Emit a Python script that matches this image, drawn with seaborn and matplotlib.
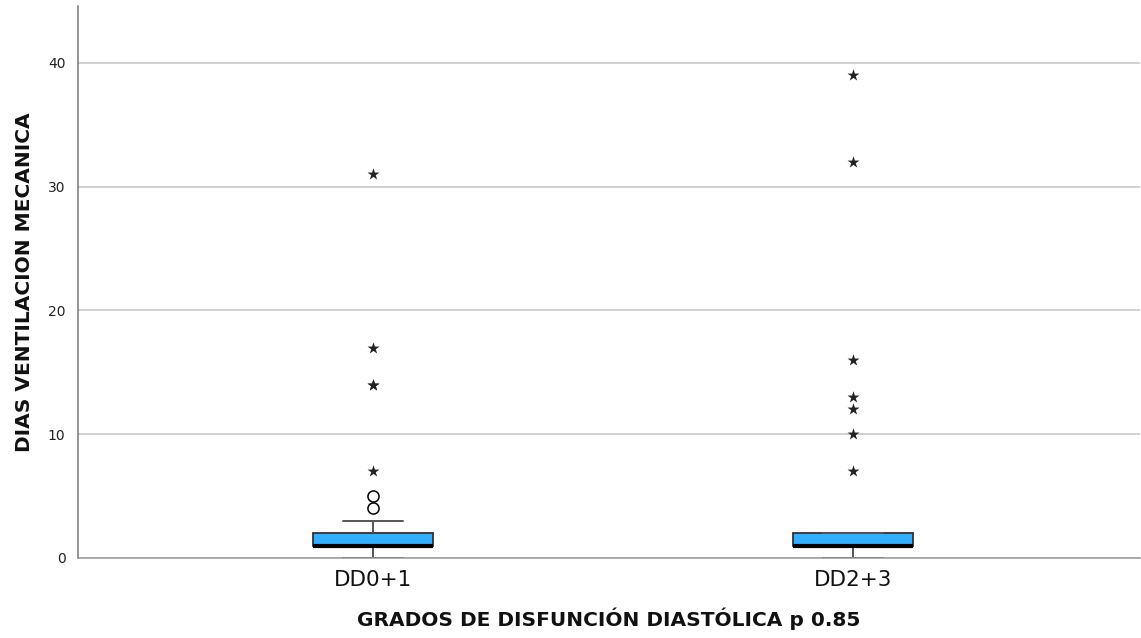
import numpy as np
import pandas as pd
import matplotlib
matplotlib.use("Agg")
import matplotlib.pyplot as plt
import seaborn as sns

# Groups of diastolic dysfunction grade
groups = ["DD0+1", "DD2+3"]

# Five-number summaries (min whisker, Q1, median, Q3, max whisker)
summary_dd01 = [0, 1, 1, 2, 3]
summary_dd23 = [0, 1, 1, 2, 2]

# Outliers: mild (circles) and extreme (stars)
mild_dd01 = [4, 5]
extreme_dd01 = [7, 14, 14, 17, 31]
mild_dd23 = []
extreme_dd23 = [7, 10, 12, 13, 16, 32, 39]

yticks = [0, 10, 20, 30, 40]

box_df = pd.DataFrame({
    "grupo": [groups[0]] * len(summary_dd01) + [groups[1]] * len(summary_dd23),
    "dias": summary_dd01 + summary_dd23,
})
mild_df = pd.DataFrame({
    "grupo": [groups[0]] * len(mild_dd01) + [groups[1]] * len(mild_dd23),
    "dias": mild_dd01 + mild_dd23,
})
ext_df = pd.DataFrame({
    "grupo": [groups[0]] * len(extreme_dd01) + [groups[1]] * len(extreme_dd23),
    "dias": extreme_dd01 + extreme_dd23,
})

sns.set_theme(style="white")
plt.rcParams["font.family"] = ["DejaVu Sans"]

fig = plt.figure(figsize=(11.41, 6.38), dpi=100)
ax = fig.add_axes([0.0684, 0.1254, 0.9306, 0.8652])

ax.set_axisbelow(True)
ax.yaxis.grid(True, color="#c4c4c4", linewidth=1.1)

sns.boxplot(
    data=box_df, x="grupo", y="dias", order=groups, ax=ax,
    width=0.25, whis=(0, 100), showfliers=False,
    color="#33adff", saturation=1, linecolor="#555555", linewidth=1.3,
    boxprops=dict(facecolor="#33adff", edgecolor="#333333"),
    medianprops=dict(color="black", linewidth=3),
    whiskerprops=dict(color="#555555", linewidth=1.4),
    capprops=dict(color="#555555", linewidth=1.4),
)

sns.stripplot(
    data=mild_df, x="grupo", y="dias", order=groups, ax=ax,
    jitter=False, marker="o", size=8, color="white",
    edgecolor="black", linewidth=1.1, zorder=5,
)
sns.stripplot(
    data=ext_df, x="grupo", y="dias", order=groups, ax=ax,
    jitter=False, marker="*", size=9, color="#222222",
    linewidth=0, zorder=5,
)

ax.set_xlim(-0.613, 0.597 + 1)
ax.set_ylim(0, 44.6)
ax.set_yticks(yticks)
ax.set_yticklabels([str(t) for t in yticks], fontsize=10, color="#222222")
ax.tick_params(axis="y", length=0, pad=9)
ax.tick_params(axis="x", length=0, pad=9, labelsize=15.5, labelcolor="#111111")

for side in ["top", "right"]:
    ax.spines[side].set_visible(False)
ax.spines["left"].set_color("#777777")
ax.spines["bottom"].set_color("#999999")
ax.spines["left"].set_linewidth(1.1)
ax.spines["bottom"].set_linewidth(1.1)

ax.set_xlabel("GRADOS DE DISFUNCIÓN DIASTÓLICA p 0.85", fontsize=14.5,
              fontweight="bold", labelpad=12, color="#111111")
ax.set_ylabel("DIAS VENTILACION MECANICA", fontsize=14.5,
              fontweight="bold", labelpad=10, color="#111111")

fig.savefig("out.png", dpi=100)
